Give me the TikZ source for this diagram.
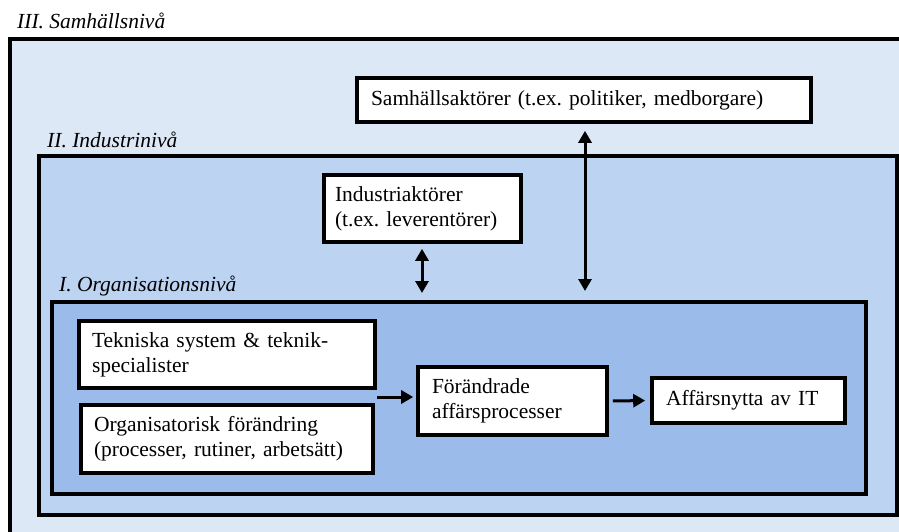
\documentclass[tikz,border=0pt]{standalone}
\usepackage{fontspec}
\setmainfont{Liberation Serif}
\usetikzlibrary{arrows.meta}
\definecolor{lvA}{RGB}{221,232,247}
\definecolor{lvB}{RGB}{189,211,242}
\definecolor{lvC}{RGB}{155,187,234}
\frenchspacing
\tikzset{
  frame/.style={draw=black, line width=3.8pt, anchor=north west, inner sep=0pt},
  box/.style={draw=black, line width=3.6pt, fill=white, inner xsep=14pt, inner ysep=2pt,
    align=left, font=\fontsize{21.5}{25}\selectfont},
  lvl/.style={anchor=west, inner sep=0pt, font=\fontsize{21.5}{25}\selectfont\itshape},
  dbl/.style={line width=3pt, {Triangle[length=12pt,width=13pt]}-{Triangle[length=12pt,width=13pt]}},
  sgl/.style={line width=3pt, -{Triangle[length=12pt,width=13pt]}}
}
\begin{document}
\begin{tikzpicture}[x=1pt,y=-1pt]
\useasboundingbox (0,0) rectangle (899,531);
\clip (0,0) rectangle (899,531);
\fill[white] (0,0) rectangle (899,531);
% frames
\node[frame, fill=lvA, minimum width=920pt, minimum height=520pt] (outer) at (8,37) {};
\node[frame, fill=lvB, minimum width=858pt, minimum height=359pt] (indf) at (37,154) {};
\node[frame, fill=lvC, minimum width=814pt, minimum height=192pt] (orgfr) at (50,300) {};
% level labels
\node[lvl] (l3) at (17,21) {III. Samhällsnivå};
\node[lvl] (l2) at (47,140) {II. Industrinivå};
\node[lvl] (l1) at (59,286) {I. Organisationsnivå};
% boxes
\node[box, text width=426pt, minimum height=44pt] (sam) at (584,100) {Samhällsaktörer (t.ex. politiker, medborgare)};
\node[box, text width=175pt, minimum height=67pt, inner xsep=11pt] (ind) at (422.5,208.5) {Industriaktörer\\(t.ex. leverentörer)};
\node[box, text width=270pt, minimum height=67pt, inner xsep=13pt] (tek) at (227,354.5) {Tekniska system \& teknik-\\specialister};
\node[box, text width=266pt, minimum height=68pt, inner xsep=13pt] (orgb) at (227,439) {Organisatorisk förändring\\(processer, rutiner, arbetsätt)};
\node[box, text width=161pt, minimum height=68pt] (forand) at (512.5,401) {Förändrade\\affärsprocesser};
\node[box, text width=165pt, minimum height=45pt] (aff) at (748.5,400.5) {Affärsnytta av IT};
% arrows
\coordinate (ax) at (585,0);
\coordinate (bx) at (422,0);
\coordinate (mid) at (377,397);
\draw[dbl, shorten <=7pt, shorten >=9pt] (sam.south -| ax) -- (orgfr.north -| ax);
\draw[dbl, shorten <=5pt, shorten >=7pt] (ind.south -| bx) -- (orgfr.north -| bx);
\draw[sgl, shorten >=3pt] (mid) -- (forand.west |- mid);
\draw[sgl, shorten <=4pt, shorten >=5pt] (forand.east) -- (aff.west);
\end{tikzpicture}
\end{document}
